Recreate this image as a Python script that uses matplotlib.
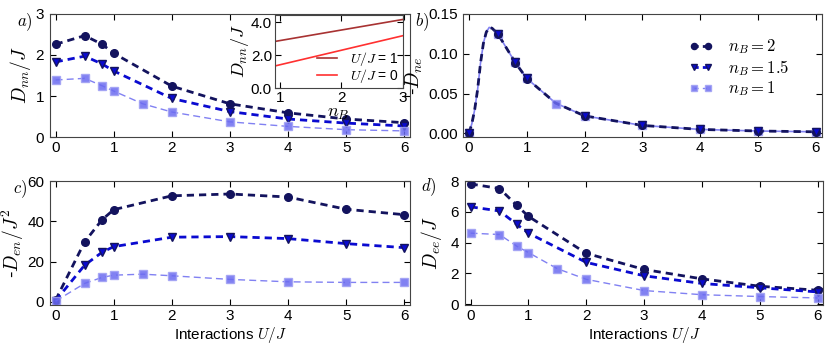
import matplotlib.pyplot as plt
import numpy as np

plt.rcParams['font.family'] = ['Liberation Sans', 'DejaVu Sans']
plt.rcParams['mathtext.fontset'] = 'cm'
plt.rcParams['xtick.direction'] = 'in'
plt.rcParams['ytick.direction'] = 'in'
plt.rcParams['xtick.top'] = True
plt.rcParams['ytick.right'] = True
plt.rcParams['xtick.major.size'] = 4
plt.rcParams['ytick.major.size'] = 4
plt.rcParams['xtick.major.pad'] = 3
plt.rcParams['ytick.major.pad'] = 4
plt.rcParams['axes.edgecolor'] = '#444444'
plt.rcParams['font.size'] = 11

# Data
u_main = [0, 0.5, 0.8, 1, 2, 3, 4, 5, 6]
u_sq = [0, 0.5, 0.8, 1, 1.5, 2, 3, 4, 5, 6]

# a) D_nn / J
a_nb2 = [2.26, 2.47, 2.26, 2.04, 1.24, 0.81, 0.59, 0.44, 0.35]
a_nb15 = [1.83, 1.97, 1.78, 1.61, 0.94, 0.62, 0.44, 0.34, 0.27]
a_nb1 = [1.39, 1.43, 1.25, 1.12, 0.81, 0.61, 0.37, 0.26, 0.18, 0.15]

# b) -D_ne
b_nb2 = [0.0, 0.125, 0.088, 0.068, 0.022, 0.010, 0.005, 0.003, 0.002]
b_nb15 = [0.0, 0.125, 0.090, 0.070, 0.022, 0.010, 0.005, 0.003, 0.002]
b_nb1 = [0.0, 0.125, 0.090, 0.070, 0.037, 0.022, 0.010, 0.005, 0.003, 0.002]
# dense curve drawn through the b) markers (read from the dashed line)
b_curve_u = [0, 0.05, 0.1, 0.15, 0.2, 0.25, 0.3, 0.35, 0.4, 0.5, 0.8, 1, 1.5, 2, 3, 4, 5, 6]
b_curve = [0, 0.012, 0.03, 0.055, 0.088, 0.113, 0.127, 0.133, 0.132, 0.125, 0.089, 0.069,
           0.038, 0.022, 0.010, 0.005, 0.003, 0.002]

# c) -D_en / J^2
c_nb2 = [0.8, 29.8, 40.8, 45.8, 52.7, 53.6, 52.1, 46.0, 43.3]
c_nb15 = [0.5, 18.2, 24.6, 27.4, 32.1, 32.4, 31.4, 28.9, 26.9]
c_nb1 = [0.3, 9.1, 12.1, 13.2, 13.7, 12.9, 11.1, 9.9, 9.6, 9.6]

# d) D_ee / J
d_nb2 = [7.82, 7.52, 6.42, 5.71, 3.31, 2.26, 1.65, 1.17, 0.91]
d_nb15 = [6.33, 6.06, 5.19, 4.62, 2.72, 1.85, 1.35, 1.07, 0.80]
d_nb1 = [4.62, 4.53, 3.77, 3.36, 2.31, 1.62, 0.89, 0.62, 0.50, 0.41]

# inset: D_nn / J vs n_B
inset_nb = [0.9, 3.0]
inset_u1 = [2.83, 4.18]
inset_u0 = [1.33, 3.19]

labels = ['$n_B = 2$', '$n_B = 1.5$', '$n_B = 1$']
c_dark = '#13135e'
c_mid = '#0a0ad0'
c_light = '#6b6bf0'

fig = plt.figure(figsize=(8.3, 3.47), dpi=100)
ax_a = fig.add_axes([0.060, 0.605, 0.434, 0.355])
ax_b = fig.add_axes([0.558, 0.605, 0.432, 0.355])
ax_c = fig.add_axes([0.060, 0.121, 0.434, 0.357])
ax_d = fig.add_axes([0.560, 0.121, 0.432, 0.357])


def draw(ax, y2, y15, y1, curve=None):
    kw2 = dict(color=c_dark, lw=2, dashes=(2.6, 1.8), marker='o', ms=5.5, mec=c_dark)
    kw15 = dict(color=c_mid, lw=2, dashes=(2.6, 1.8), marker='v', ms=6, mec=c_dark)
    kw1 = dict(color=c_light, lw=1, dashes=(5, 3), marker='s', ms=5.5, mec='#a0a0f4', alpha=0.85)
    if curve is None:
        ax.plot(u_main, y2, label=labels[0], **kw2)
        ax.plot(u_main, y15, label=labels[1], **kw15)
        ax.plot(u_sq, y1, label=labels[2], **kw1)
    else:
        cu, cv = curve
        ax.plot(cu, cv, color=c_light, lw=1.2, alpha=0.85)
        ax.plot(cu, cv, color=c_dark, lw=2, dashes=(2.6, 1.8))
        ax.plot(u_sq, y1, ls='none', marker='s', ms=5.5, color=c_light, mec='#a0a0f4', alpha=0.85)
        ax.plot(u_main, y2, ls='none', marker='o', ms=5.5, color=c_dark)
        ax.plot(u_main, y15, ls='none', marker='v', ms=6, color=c_mid, mec=c_dark)
        # legend proxies
        ax.plot([], [], label=labels[0], **{**kw2, 'dashes': (1.5, 1.5)})
        ax.plot([], [], label=labels[1], **{**kw15, 'dashes': (1.5, 1.5)})
        ax.plot([], [], label=labels[2], **{**kw1, 'dashes': (3, 3)})
    ax.set_xlim(-0.1, 6.1)
    ax.set_xticks(range(7))


draw(ax_a, a_nb2, a_nb15, a_nb1)
ax_a.set_ylim(0, 3)
ax_a.set_yticks([0, 1, 2, 3])
ax_a.set_ylabel('$D_{nn}/J$', fontsize=14, labelpad=2)

draw(ax_b, b_nb2, b_nb15, b_nb1, curve=(b_curve_u, b_curve))
ax_b.set_ylim(-0.0046, 0.15)
ax_b.set_yticks([0, 0.05, 0.10, 0.15])
ax_b.set_yticklabels(['0.00', '0.05', '0.10', '0.15'])
ax_b.set_ylabel('-$D_{ne}$', fontsize=14, labelpad=2)
ax_b.legend(loc='upper right', bbox_to_anchor=(0.95, 0.93), frameon=False, numpoints=2,
            fontsize=12, handlelength=1.4, labelspacing=0.1, markerscale=0.8,
            handletextpad=0.9)

draw(ax_c, c_nb2, c_nb15, c_nb1)
ax_c.set_ylim(-1.65, 60)
ax_c.set_yticks([0, 20, 40, 60])
ax_c.set_ylabel('-$D_{en}/J^2$', fontsize=14, labelpad=1)
ax_c.set_xlabel('Interactions $U/J$', fontsize=11, labelpad=1)

draw(ax_d, d_nb2, d_nb15, d_nb1)
ax_d.set_ylim(-0.05, 8)
ax_d.set_yticks([0, 2, 4, 6, 8])
ax_d.set_ylabel('$D_{ee}/J$', fontsize=14, labelpad=5)
ax_d.set_xlabel('Interactions $U/J$', fontsize=11, labelpad=1)

# inset
ax_in = fig.add_axes([0.331, 0.746, 0.154, 0.211])
ax_in.plot(inset_nb, inset_u1, color='#a83232', lw=1.2, label='$U/J$ = 1')
ax_in.plot(inset_nb, inset_u0, color='#ff3030', lw=1.2, label='$U/J$ = 0')
ax_in.set_xlim(0.92, 3.0)
ax_in.set_ylim(0, 4.46)
ax_in.set_xticks([1, 2, 3])
ax_in.set_yticks([0, 2, 4])
ax_in.set_yticklabels(['0.0', '2.0', '4.0'])
ax_in.tick_params(labelsize=11, pad=2)
ax_in.set_xlabel('$n_B$', fontsize=13, labelpad=0)
ax_in.set_ylabel('$D_{nn}/J$', fontsize=13, labelpad=0)
ax_in.legend(loc='lower right', frameon=False, fontsize=10, handlelength=1.5,
             labelspacing=-0.1, borderaxespad=0.0, borderpad=0.25, handletextpad=0.9)

for txt, x, y in [('a)', 0.020, 0.935), ('b)', 0.500, 0.935),
                  ('c)', 0.016, 0.455), ('d)', 0.507, 0.46)]:
    fig.text(x, y, '$' + txt + '$', fontsize=12, va='center')

fig.savefig('out.png', dpi=100)
